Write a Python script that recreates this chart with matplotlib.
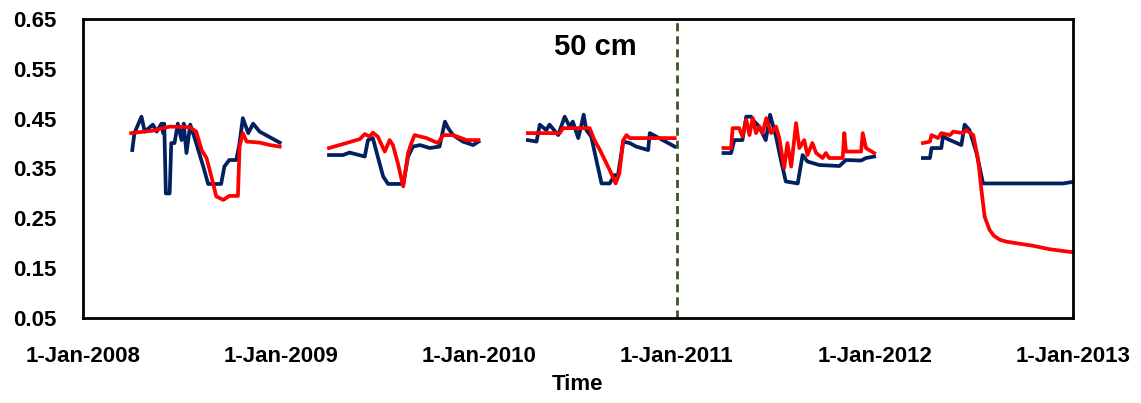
import matplotlib
matplotlib.use("Agg")
import matplotlib.pyplot as plt
import matplotlib.dates as mdates
import numpy as np
import pandas as pd
from matplotlib import font_manager

# Soil moisture at 50 cm, one list per growing season
navy_t = [
    ["2008-04-01", "2008-04-05", "2008-04-18", "2008-04-24", "2008-05-09", "2008-05-16",
     "2008-05-25", "2008-05-28", "2008-05-30", "2008-06-02", "2008-06-09", "2008-06-12",
     "2008-06-18", "2008-06-24", "2008-07-01", "2008-07-05", "2008-07-10", "2008-07-17",
     "2008-07-28", "2008-08-10", "2008-08-19", "2008-09-12", "2008-09-18", "2008-09-27",
     "2008-10-10", "2008-10-16", "2008-10-22", "2008-11-01", "2008-11-10", "2008-11-22",
     "2008-12-29"],
    ["2009-03-30", "2009-04-25", "2009-05-07", "2009-06-04", "2009-06-10", "2009-06-19",
     "2009-06-28", "2009-07-08", "2009-07-17", "2009-08-14", "2009-08-23", "2009-09-01",
     "2009-09-14", "2009-10-02", "2009-10-20", "2009-10-30", "2009-11-05", "2009-11-14",
     "2009-12-02", "2009-12-21", "2009-12-31"],
    ["2010-04-01", "2010-04-17", "2010-04-23", "2010-05-05", "2010-05-11", "2010-05-27",
     "2010-06-08", "2010-06-17", "2010-06-23", "2010-07-03", "2010-07-09", "2010-07-13",
     "2010-07-18", "2010-07-27", "2010-08-06", "2010-08-15", "2010-08-30", "2010-09-08",
     "2010-09-14", "2010-09-24", "2010-10-06", "2010-10-18", "2010-11-09", "2010-11-12",
     "2010-11-24", "2010-12-28"],
    ["2011-03-28", "2011-04-11", "2011-04-17", "2011-05-02", "2011-05-09", "2011-05-18",
     "2011-05-24", "2011-06-02", "2011-06-14", "2011-06-22", "2011-07-03", "2011-07-12",
     "2011-07-21", "2011-08-12", "2011-08-21", "2011-08-30", "2011-09-21", "2011-10-28",
     "2011-11-09", "2011-12-07", "2011-12-16", "2011-12-31"],
    ["2012-03-30", "2012-04-12", "2012-04-15", "2012-05-03", "2012-05-06", "2012-05-19",
     "2012-06-09", "2012-06-15", "2012-06-24", "2012-07-07", "2012-07-19", "2012-12-14",
     "2012-12-31"],
]
navy_v = [
    [0.387, 0.421, 0.454, 0.424, 0.438, 0.424, 0.440, 0.421, 0.440, 0.300, 0.300, 0.401,
     0.401, 0.440, 0.407, 0.440, 0.381, 0.438, 0.401, 0.354, 0.319, 0.319, 0.354, 0.367,
     0.367, 0.401, 0.451, 0.421, 0.440, 0.424, 0.402],
    [0.377, 0.377, 0.382, 0.374, 0.407, 0.411, 0.374, 0.334, 0.319, 0.319, 0.374, 0.394,
     0.397, 0.391, 0.394, 0.444, 0.431, 0.417, 0.404, 0.397, 0.404],
    [0.407, 0.404, 0.438, 0.427, 0.438, 0.417, 0.454, 0.434, 0.444, 0.411, 0.438, 0.458,
     0.427, 0.414, 0.364, 0.320, 0.320, 0.337, 0.334, 0.404, 0.401, 0.394, 0.387, 0.421,
     0.414, 0.394],
    [0.381, 0.381, 0.407, 0.407, 0.454, 0.454, 0.444, 0.434, 0.407, 0.458, 0.414, 0.367,
     0.324, 0.320, 0.377, 0.364, 0.357, 0.355, 0.367, 0.366, 0.371, 0.374],
    [0.371, 0.371, 0.391, 0.391, 0.414, 0.407, 0.397, 0.438, 0.427, 0.381, 0.320, 0.320,
     0.323],
]

red_t = [
    ["2008-03-30", "2008-05-09", "2008-06-09", "2008-07-16", "2008-07-28", "2008-08-07",
     "2008-08-16", "2008-08-25", "2008-09-03", "2008-09-16", "2008-09-27", "2008-10-13",
     "2008-10-16", "2008-10-22", "2008-10-29", "2008-11-22", "2008-12-11", "2008-12-29"],
    ["2009-03-30", "2009-05-01", "2009-05-26", "2009-06-04", "2009-06-13", "2009-06-19",
     "2009-06-28", "2009-07-11", "2009-07-20", "2009-07-26", "2009-08-04", "2009-08-14",
     "2009-08-23", "2009-08-29", "2009-09-04", "2009-09-26", "2009-10-17", "2009-10-27",
     "2009-11-14", "2009-12-09", "2009-12-31"],
    ["2010-04-01", "2010-05-30", "2010-06-05", "2010-07-24", "2010-08-02", "2010-08-12",
     "2010-08-21", "2010-08-30", "2010-09-10", "2010-09-17", "2010-09-24", "2010-09-30",
     "2010-10-06", "2010-12-28"],
    ["2011-03-28", "2011-04-11", "2011-04-14", "2011-04-26", "2011-05-02", "2011-05-09",
     "2011-05-15", "2011-05-21", "2011-05-27", "2011-06-02", "2011-06-08", "2011-06-15",
     "2011-06-24", "2011-07-03", "2011-07-09", "2011-07-18", "2011-07-24", "2011-07-31",
     "2011-08-09", "2011-08-15", "2011-08-24", "2011-08-30", "2011-09-08", "2011-09-15",
     "2011-09-27", "2011-10-03", "2011-10-09", "2011-11-03", "2011-11-06", "2011-11-09",
     "2011-12-07", "2011-12-10", "2011-12-16", "2011-12-31"],
    ["2012-03-30", "2012-04-12", "2012-04-15", "2012-04-27", "2012-05-03", "2012-05-19",
     "2012-05-25", "2012-06-12", "2012-06-18", "2012-07-01", "2012-07-10", "2012-07-16",
     "2012-07-22", "2012-07-31", "2012-08-08", "2012-08-19", "2012-09-01", "2012-10-19",
     "2012-11-19", "2012-12-31"],
]
red_v = [
    [0.421, 0.426, 0.434, 0.433, 0.424, 0.387, 0.371, 0.334, 0.294, 0.287, 0.295, 0.295,
     0.394, 0.421, 0.404, 0.402, 0.397, 0.394],
    [0.391, 0.401, 0.409, 0.419, 0.414, 0.422, 0.414, 0.384, 0.407, 0.397, 0.361, 0.314,
     0.381, 0.401, 0.417, 0.411, 0.401, 0.417, 0.417, 0.407, 0.407],
    [0.421, 0.421, 0.431, 0.431, 0.407, 0.387, 0.367, 0.347, 0.320, 0.341, 0.407, 0.417,
     0.411, 0.411],
    [0.391, 0.391, 0.431, 0.431, 0.414, 0.448, 0.417, 0.451, 0.421, 0.434, 0.421, 0.451,
     0.421, 0.434, 0.411, 0.351, 0.401, 0.354, 0.441, 0.391, 0.407, 0.377, 0.401, 0.381,
     0.371, 0.381, 0.371, 0.371, 0.421, 0.384, 0.384, 0.421, 0.391, 0.381],
    [0.401, 0.404, 0.417, 0.411, 0.421, 0.417, 0.424, 0.421, 0.427, 0.417, 0.367, 0.307,
     0.253, 0.227, 0.215, 0.207, 0.203, 0.195, 0.188, 0.182],
]

x_ticks = ["2008-01-01", "2009-01-01", "2010-01-01", "2011-01-01", "2012-01-01", "2013-01-01"]
y_ticks = [0.05, 0.15, 0.25, 0.35, 0.45, 0.55, 0.65]
marker_date = "2011-01-01"

installed = {f.name for f in font_manager.fontManager.ttflist}
fam = [f for f in ["Liberation Sans Narrow", "Liberation Sans", "DejaVu Sans"] if f in installed]
plt.rcParams["font.family"] = fam
plt.rcParams["font.weight"] = "bold"

fig = plt.figure(figsize=(11.41, 4.03), dpi=100)
ax = fig.add_axes([0.0727, 0.2109, 0.8677, 0.742])

for t, v in zip(navy_t, navy_v):
    ax.plot(pd.to_datetime(t), v, color="#002060", lw=2.7, solid_joinstyle="round")
for t, v in zip(red_t, red_v):
    ax.plot(pd.to_datetime(t), v, color="#FF0000", lw=2.7, solid_joinstyle="round")

ax.axvline(pd.Timestamp(marker_date), color="#385723", lw=2.0, ls=(0, (2.9, 1.8)))

xt = pd.to_datetime(x_ticks)
ax.set_xlim(xt[0], xt[-1])
ax.set_xticks(xt)
ax.xaxis.set_major_formatter(mdates.DateFormatter("%-d-%b-%Y"))
ax.set_ylim(y_ticks[0], y_ticks[-1])
ax.set_yticks(y_ticks)
ax.set_yticklabels([f"{y:.2f}" for y in y_ticks])
ax.tick_params(length=0, labelsize=16, pad=19)
ax.tick_params(axis="x", pad=20)
for s in ax.spines.values():
    s.set_linewidth(2.0)

ax.set_xlabel("Time", fontsize=16, fontweight="bold", labelpad=5)
ax.text(0.518, 0.906, "50 cm", transform=ax.transAxes, fontsize=21, fontweight="bold",
        ha="center", va="center")

fig.savefig("out.png", dpi=100)
